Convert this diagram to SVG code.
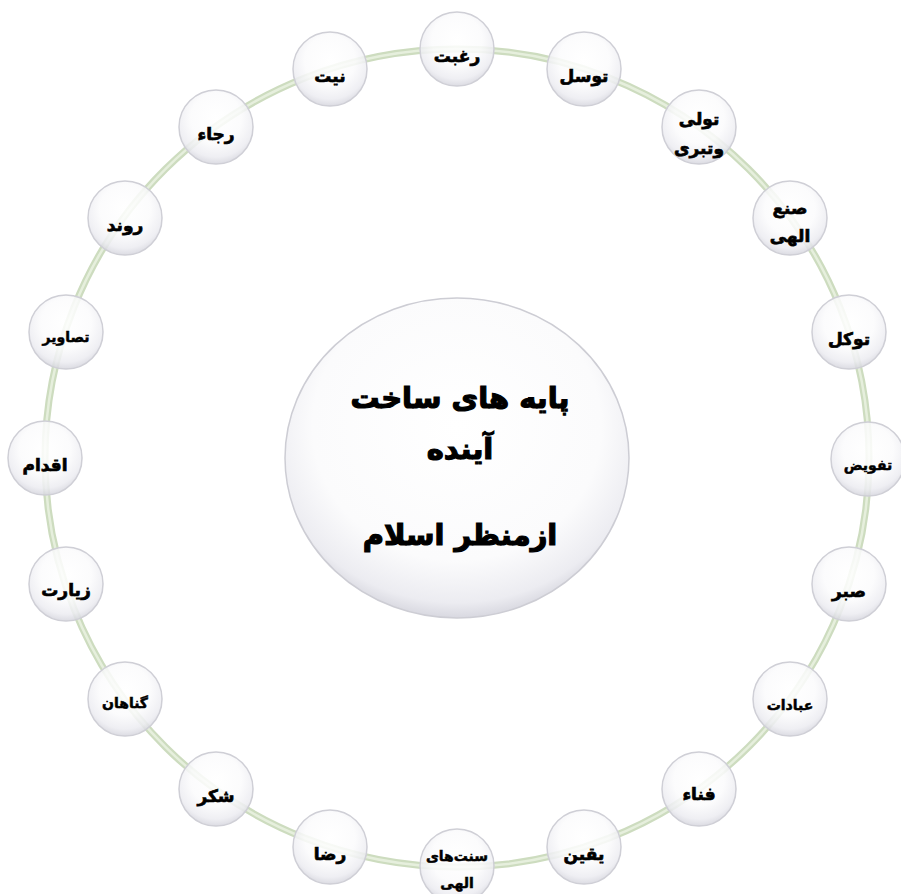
<svg xmlns="http://www.w3.org/2000/svg" width="901" height="894" viewBox="0 0 901 894">
<defs>
<radialGradient id="ball" cx="50%" cy="38%" r="62%">
<stop offset="0" stop-color="#ffffff"/>
<stop offset="0.55" stop-color="#fbfbfc"/>
<stop offset="0.85" stop-color="#ececf1"/>
<stop offset="1" stop-color="#d6d6de"/>
</radialGradient>
<radialGradient id="big" cx="50%" cy="40%" r="60%">
<stop offset="0" stop-color="#ffffff"/>
<stop offset="0.7" stop-color="#fbfbfc"/>
<stop offset="0.92" stop-color="#ececf1"/>
<stop offset="1" stop-color="#d8d8e0"/>
</radialGradient>
</defs>
<style>
.ring-o{fill:none;stroke:#cddcbf;stroke-width:7}
.ring-i{fill:none;stroke:#e6efdd;stroke-width:2.5}
.node circle{fill:url(#ball);fill-opacity:0.86;stroke:#cfcfd6;stroke-width:1.5}
.node text{font-family:"DejaVu Sans",sans-serif;font-weight:bold;font-size:17px;fill:#000;stroke:#000;stroke-width:0.7;text-anchor:middle}
.node text.s{font-size:14px;stroke-width:0.5}
.center ellipse{fill:url(#big);stroke:#cdcdd4;stroke-width:1.5}
.center text{font-family:"DejaVu Sans",sans-serif;font-weight:bold;font-size:29px;fill:#000;stroke:#000;stroke-width:1.2;text-anchor:middle}
</style>
<rect width="901" height="894" fill="#ffffff"/>
<g id="connectors">
<ellipse class="ring-o" cx="457" cy="458" rx="412" ry="409"/>
<ellipse class="ring-i" cx="457" cy="458" rx="412" ry="409"/>
</g>
<g id="center" class="center">
<ellipse cx="457" cy="458" rx="172" ry="160"/>
<text x="460" y="408">پایه های ساخت</text>
<text x="460" y="459">آینده</text>
<text x="460" y="545">ازمنظر اسلام</text>
</g>
<g id="n0" class="node"><circle cx="457" cy="49" r="37"/><text x="457" y="62">رغبت</text></g>
<g id="n1" class="node"><circle cx="584" cy="69" r="37"/><text x="584" y="82">توسل</text></g>
<g id="n2" class="node"><circle cx="699" cy="127" r="37"/><text x="699" y="125">تولی</text><text x="699" y="154">وتبری</text></g>
<g id="n3" class="node"><circle cx="790" cy="218" r="37"/><text x="790" y="214">صنع</text><text x="790" y="242">الهی</text></g>
<g id="n4" class="node"><circle cx="849" cy="332" r="37"/><text x="849" y="345">توکل</text></g>
<g id="n5" class="node"><circle cx="868" cy="459" r="37"/><text class="s" x="868" y="470">تفویض</text></g>
<g id="n6" class="node"><circle cx="849" cy="584" r="37"/><text x="849" y="597">صبر</text></g>
<g id="n7" class="node"><circle cx="790" cy="699" r="37"/><text class="s" x="790" y="710">عبادات</text></g>
<g id="n8" class="node"><circle cx="699" cy="789" r="37"/><text x="699" y="800">فناء</text></g>
<g id="n9" class="node"><circle cx="584" cy="847" r="37"/><text x="584" y="860">یقین</text></g>
<g id="n10" class="node"><circle cx="457" cy="866" r="37"/><text class="s" x="457" y="861">سنت‌های</text><text class="s" x="457" y="888">الهی</text></g>
<g id="n11" class="node"><circle cx="330" cy="847" r="37"/><text x="330" y="860">رضا</text></g>
<g id="n12" class="node"><circle cx="216" cy="789" r="37"/><text x="216" y="802">شکر</text></g>
<g id="n13" class="node"><circle cx="125" cy="699" r="37"/><text class="s" x="125" y="708">گناهان</text></g>
<g id="n14" class="node"><circle cx="66" cy="584" r="37"/><text x="66" y="596">زیارت</text></g>
<g id="n15" class="node"><circle cx="45" cy="458" r="37"/><text x="45" y="471">اقدام</text></g>
<g id="n16" class="node"><circle cx="66" cy="332" r="37"/><text class="s" x="66" y="342">تصاویر</text></g>
<g id="n17" class="node"><circle cx="125" cy="218" r="37"/><text x="125" y="231">روند</text></g>
<g id="n18" class="node"><circle cx="216" cy="127" r="37"/><text x="216" y="140">رجاء</text></g>
<g id="n19" class="node"><circle cx="330" cy="69" r="37"/><text x="330" y="82">نیت</text></g>
</svg>
